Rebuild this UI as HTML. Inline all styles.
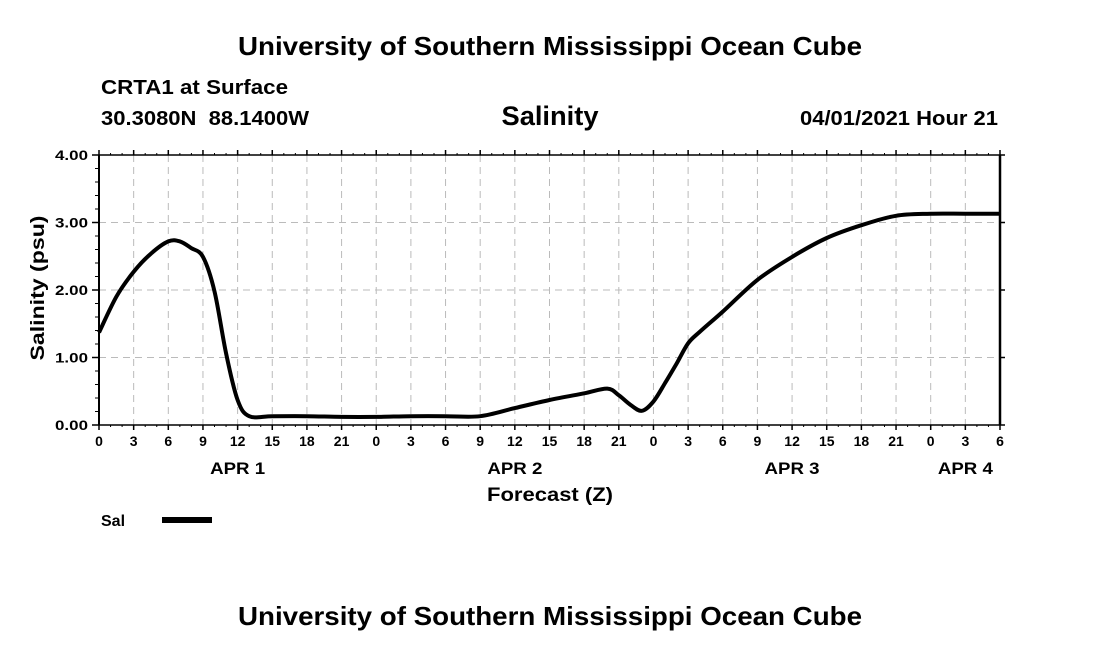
<!DOCTYPE html>
<html><head><meta charset="utf-8"><style>
body{margin:0;background:#fff;}
svg text{font-family:"Liberation Sans",Arial,sans-serif;font-weight:bold;fill:#000;white-space:pre;}
</style></head><body>
<svg width="1100" height="650" viewBox="0 0 1100 650">
<text x="550" y="55" font-size="26" text-anchor="middle" textLength="624" lengthAdjust="spacingAndGlyphs">University of Southern Mississippi Ocean Cube</text>
<text x="101" y="94" font-size="20" textLength="187" lengthAdjust="spacingAndGlyphs">CRTA1 at Surface</text>
<text x="101" y="125" font-size="20" textLength="208" lengthAdjust="spacingAndGlyphs">30.3080N  88.1400W</text>
<text x="550" y="125" font-size="27" text-anchor="middle" textLength="97" lengthAdjust="spacingAndGlyphs">Salinity</text>
<text x="998" y="125" font-size="20" text-anchor="end" textLength="198" lengthAdjust="spacingAndGlyphs">04/01/2021 Hour 21</text>
<g id="grid"></g>
<g id="axes"></g>
<path id="line" fill="none" stroke="#000" stroke-width="4" stroke-linejoin="round"/>
<text x="550" y="501" font-size="19" text-anchor="middle" textLength="126" lengthAdjust="spacingAndGlyphs">Forecast (Z)</text>
<text transform="translate(44,288) rotate(-90)" font-size="19" text-anchor="middle" textLength="145" lengthAdjust="spacingAndGlyphs">Salinity (psu)</text>
<text x="101" y="526" font-size="16">Sal</text>
<line x1="162" y1="520" x2="212" y2="520" stroke="#000" stroke-width="6"/>
<text x="550" y="625" font-size="26" text-anchor="middle" textLength="624" lengthAdjust="spacingAndGlyphs">University of Southern Mississippi Ocean Cube</text>
</svg>
<script>
const hours=[0,1.5,3,4.5,6,7,8,9,10,11,12,13,15,18,21,24,27,30,33,36,39,42,44,45,46,47,48,49,50,51,52,54,57,60,63,66,69,72,75,78];
const salinity=[1.37,1.90,2.27,2.54,2.72,2.72,2.62,2.49,1.98,1.06,0.37,0.13,0.13,0.13,0.12,0.12,0.13,0.13,0.13,0.25,0.37,0.47,0.54,0.44,0.30,0.21,0.35,0.62,0.91,1.21,1.38,1.68,2.15,2.49,2.77,2.96,3.10,3.13,3.13,3.13];
const xTickLabels=["0","3","6","9","12","15","18","21","0","3","6","9","12","15","18","21","0","3","6","9","12","15","18","21","0","3","6"];
const yTicks=[0,1,2,3,4];
const dayLabels=["APR 1","APR 2","APR 3","APR 4"];
const dayLabelHours=[12,36,60,75];
const L=99,R=1000,T=155,B=425,HMAX=78,YMAX=4;
const X=h=>L+(R-L)*h/HMAX, Y=v=>B-(B-T)*v/YMAX;
const NS="http://www.w3.org/2000/svg";
const grid=document.getElementById('grid'), axes=document.getElementById('axes');
function mk(tag,attrs,parent){const e=document.createElementNS(NS,tag);for(const k in attrs)e.setAttribute(k,attrs[k]);parent.appendChild(e);return e;}
xTickLabels.forEach((lab,i)=>{const x=X(i*3);
  if(i>0&&i<xTickLabels.length-1){const g=mk('line',{x1:x,y1:T,x2:x,y2:B,stroke:'#bbb','stroke-dasharray':'7,5'},grid);
  
  }
  mk('line',{x1:x,y1:B,x2:x,y2:B+5,stroke:'#000','stroke-width':1.5},axes);
  mk('line',{x1:x,y1:T,x2:x,y2:T-5,stroke:'#000','stroke-width':1.5},axes);
  const t=mk('text',{x:x,y:B+21,'font-size':14,'text-anchor':'middle'},axes);t.textContent=lab;
  
  
});
for(let h=0;h<=HMAX;h++){mk('line',{x1:X(h),y1:B,x2:X(h),y2:B+2,stroke:'#000'},axes);mk('line',{x1:X(h),y1:T,x2:X(h),y2:T-2,stroke:'#000'},axes);}
yTicks.forEach(v=>{const y=Y(v);
  if(v>0&&v<YMAX){const g=mk('line',{x1:L,y1:y,x2:R,y2:y,stroke:'#bbb','stroke-dasharray':'7,5'},grid);
  
  }
  mk('line',{x1:L-7,y1:y,x2:L,y2:y,stroke:'#000','stroke-width':1.5},axes);
  mk('line',{x1:R,y1:y,x2:R+5,y2:y,stroke:'#000','stroke-width':1.5},axes);
  const t=mk('text',{x:L-11,y:y+5,'font-size':14,'text-anchor':'end',textLength:33,lengthAdjust:'spacingAndGlyphs'},axes);t.textContent=v.toFixed(2);
  
  
});
for(let v=0;v<=YMAX+0.001;v+=0.2){mk('line',{x1:L-4,y1:Y(v),x2:L,y2:Y(v),stroke:'#000'},axes);}
dayLabels.forEach((d,i)=>{const t=mk('text',{x:X(dayLabelHours[i]),y:474,'font-size':17,'text-anchor':'middle',textLength:55,lengthAdjust:'spacingAndGlyphs'},axes);t.textContent=d;
  
  });
mk('line',{x1:L,y1:T,x2:R,y2:T,stroke:'#000','stroke-width':1.5},axes);
mk('line',{x1:L,y1:B,x2:R,y2:B,stroke:'#000','stroke-width':1.5},axes);
mk('line',{x1:L,y1:T,x2:L,y2:B,stroke:'#000','stroke-width':2},axes);
mk('line',{x1:R,y1:T,x2:R,y2:B,stroke:'#000','stroke-width':2.5},axes);
// smooth path (Catmull-Rom) through data points
const pts=hours.map((h,i)=>[X(h),Y(salinity[i])]);
let d='M'+pts[0][0].toFixed(1)+','+pts[0][1].toFixed(1);
for(let i=0;i<pts.length-1;i++){const p0=pts[i-1]||pts[i],p1=pts[i],p2=pts[i+1],p3=pts[i+2]||p2;
  const c1=[p1[0]+(p2[0]-p0[0])/6,p1[1]+(p2[1]-p0[1])/6],c2=[p2[0]-(p3[0]-p1[0])/6,p2[1]-(p3[1]-p1[1])/6];
  d+='C'+c1.map(n=>n.toFixed(1)).join(',')+' '+c2.map(n=>n.toFixed(1)).join(',')+' '+p2.map(n=>n.toFixed(1)).join(',');}
document.getElementById('line').setAttribute('d',d);
</script>
</body></html>
